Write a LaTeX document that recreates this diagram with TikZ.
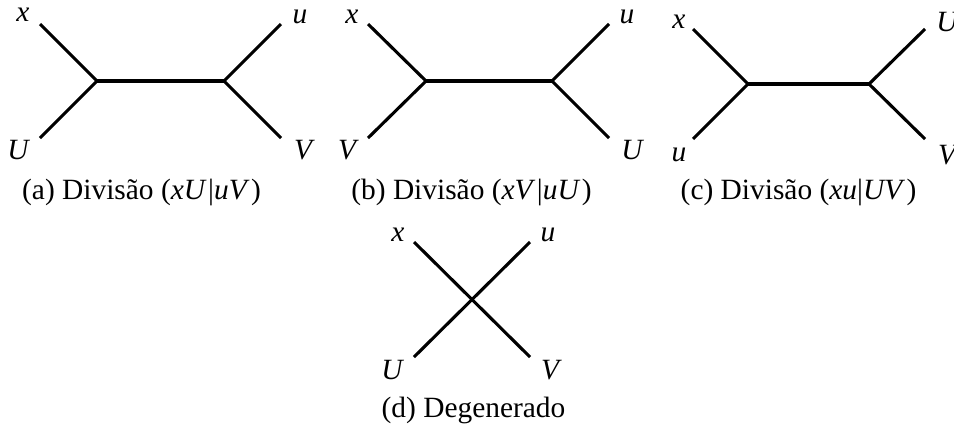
\documentclass[tikz,border=0pt]{standalone}
\usepackage{fontspec}
\setmainfont{Liberation Serif}
\begin{document}
\begin{tikzpicture}[x=0.34pt,y=-0.34pt,
  edge/.style={line width=1.05pt},
  lbl/.style={font=\itshape, inner sep=0pt},
  captxt/.style={inner sep=0pt, anchor=base}]
\useasboundingbox (0,0) rectangle (954,427);
% ---------- (a)
\coordinate (ax) at (40,24);
\coordinate (aU) at (40,138);
\coordinate (au) at (281,24);
\coordinate (aV) at (281,138);
\coordinate (aj) at (97,81);
\coordinate (ak) at (224,81);
\draw[edge] (ax) -- (aj) -- (aU);
\draw[edge] (aj) -- (ak);
\draw[edge] (au) -- (ak) -- (aV);
\node[lbl] (axl) at (23,15) {x};
\node[lbl] (aul) at (300,17) {u};
\node[lbl] (aUl) at (18,150) {U};
\node[lbl] (aVl) at (303,150) {V};
\node[captxt] (acap) at (141.5,199) {(a) Divisão (\textit{xU}\kern0.5pt|\textit{uV}\kern0.5pt)};
% ---------- (b)
\coordinate (bx) at (368,24);
\coordinate (bV) at (368,138);
\coordinate (bu) at (609,24);
\coordinate (bU) at (609,138);
\coordinate (bj) at (426,81);
\coordinate (bk) at (552,81);
\draw[edge] (bx) -- (bj) -- (bV);
\draw[edge] (bj) -- (bk);
\draw[edge] (bu) -- (bk) -- (bU);
\node[lbl] (bxl) at (352,17) {x};
\node[lbl] (bul) at (627,17) {u};
\node[lbl] (bVl) at (347,150) {V};
\node[lbl] (bUl) at (632,150) {U};
\node[captxt] (bcap) at (471.5,199) {(b) Divisão (\textit{xV}\kern0.5pt|\textit{uU}\kern0.5pt)};
% ---------- (c)
\coordinate (cx) at (693,29);
\coordinate (cu) at (693,139);
\coordinate (cU) at (925,29);
\coordinate (cV) at (925,139);
\coordinate (cj) at (748,84);
\coordinate (ck) at (869,84);
\draw[edge] (cx) -- (cj) -- (cu);
\draw[edge] (cj) -- (ck);
\draw[edge] (cU) -- (ck) -- (cV);
\node[lbl] (cxl) at (679,22) {x};
\node[lbl] (cul) at (679,155) {u};
\node[lbl] (cUl) at (947,22) {U};
\node[lbl] (cVl) at (947,155) {V};
\node[captxt] (ccap) at (798.5,199) {(c) Divisão (\textit{xu}|\textit{UV}\kern0.5pt)};
% ---------- (d)
\coordinate (dx) at (414,242);
\coordinate (dV) at (530,357);
\coordinate (du) at (530,242);
\coordinate (dU) at (414,357);
\draw[edge] (dx) -- (dV);
\draw[edge] (du) -- (dU);
\node[lbl] (dxl) at (398,235) {x};
\node[lbl] (dul) at (548,235) {u};
\node[lbl] (dUl) at (392,370) {U};
\node[lbl] (dVl) at (550,370) {V};
\node[captxt] (dcap) at (473.5,417) {(d) Degenerado};
\end{tikzpicture}
\end{document}
